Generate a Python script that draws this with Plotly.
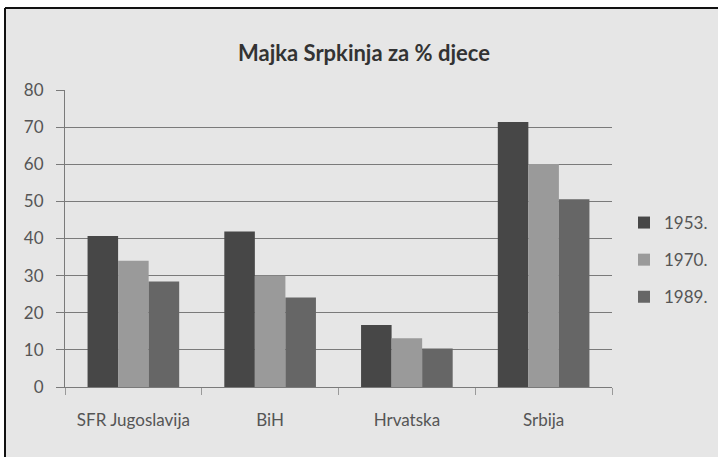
import plotly.graph_objects as go

categories = ["SFR Jugoslavija", "BiH", "Hrvatska", "Srbija"]
series_names = ["1953.", "1970.", "1989."]
values_1953 = [40.7, 41.9, 16.7, 71.4]
values_1970 = [34.0, 30.0, 13.1, 60.1]
values_1989 = [28.4, 24.1, 10.4, 50.6]
colors = ["#474747", "#9a9a9a", "#666666"]
title_text = "Majka Srpkinja za % djece"

W, H = 718, 457
L, R, T, B = 65, 106, 90, 70

fig = go.Figure()
for name, vals, c in zip(series_names, [values_1953, values_1970, values_1989], colors):
    fig.add_trace(go.Bar(x=categories, y=vals, name=name, legendgroup=name,
                         marker=dict(color=c, line=dict(width=0))))

pw = W - L - R
ph = H - T - B
def px2x(px):
    return (px - L) / pw
def py2y(py):
    return (H - B - py) / ph

fig.update_layout(
    width=W, height=H,
    margin=dict(l=L, r=R, t=T, b=B, autoexpand=False),
    paper_bgcolor="white",
    plot_bgcolor="rgba(0,0,0,0)",
    bargap=0.33, bargroupgap=0,
    font=dict(family="Lato, Open Sans, sans-serif", color="#555555"),
    title=dict(text="<b>" + title_text + "</b>", x=364 / W, xanchor="center", y=1 - 53 / H, yanchor="middle",
               font=dict(size=22, color="#333333", family="Lato, Open Sans, sans-serif")),
    legend=dict(x=px2x(624), xanchor="left", y=py2y(205), yanchor="top",
                font=dict(size=17, color="#555555"), bgcolor="rgba(0,0,0,0)",
                itemwidth=30, tracegroupgap=12, traceorder="grouped"),
    showlegend=True,
    shapes=[
        dict(type="rect", xref="paper", yref="paper", layer="below",
             x0=px2x(5), x1=px2x(730), y0=py2y(470), y1=py2y(8),
             fillcolor="#e6e6e6", line=dict(width=0)),
        dict(type="line", xref="paper", yref="paper", layer="below",
             x0=px2x(5), x1=px2x(730), y0=py2y(8), y1=py2y(8),
             line=dict(color="#111111", width=2)),
        dict(type="line", xref="paper", yref="paper", layer="below",
             x0=px2x(5), x1=px2x(5), y0=py2y(8), y1=py2y(470),
             line=dict(color="#111111", width=2)),
    ],
    xaxis=dict(showgrid=False, showline=True, linecolor="#7a7a7a", linewidth=1,
               ticks="outside", tickson="boundaries", ticklen=7, tickcolor="#9a9a9a",
               tickfont=dict(size=17, color="#555555"), ticklabelstandoff=18),
    yaxis=dict(range=[0, 80], dtick=10, showgrid=True, gridcolor="#7a7a7a", gridwidth=1,
               showline=True, linecolor="#7a7a7a", linewidth=1,
               ticks="outside", ticklen=8, tickcolor="#7a7a7a",
               tickfont=dict(size=17, color="#555555"), zeroline=False, ticklabelstandoff=9),
)

fig.write_html("out.html", config={"displayModeBar": False},
               post_script="document.body.style.margin='0px';document.body.style.padding='0px';")
